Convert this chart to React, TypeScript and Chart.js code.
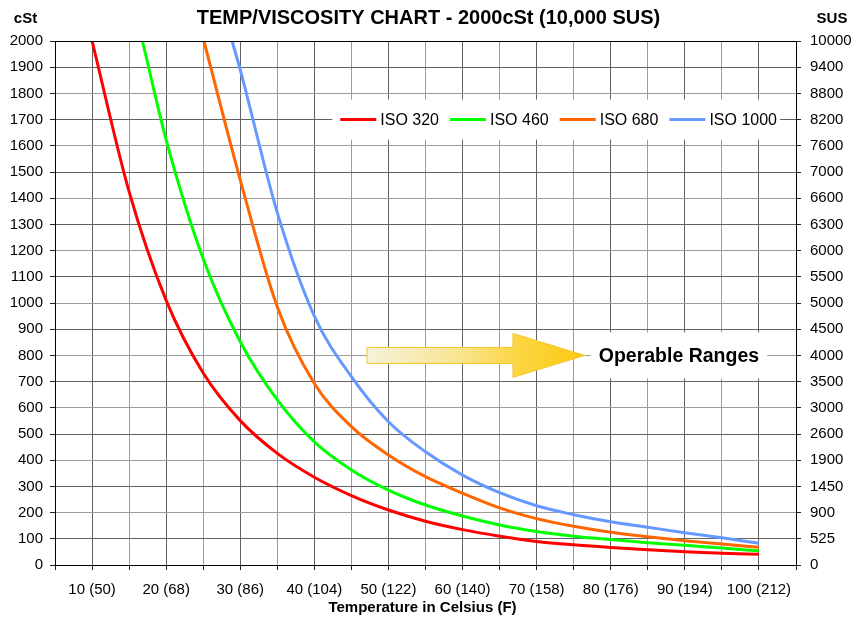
import React, { useEffect, useRef } from 'react';
import { Chart, registerables } from 'chart.js';

Chart.register(...registerables);

// ---- data (temperature °C -> viscosity cSt) ----
const seriesLabels = ['ISO 320', 'ISO 460', 'ISO 680', 'ISO 1000'];
const seriesColors = ['#ff0000', '#00ff00', '#ff6600', '#6699ff'];

const iso320Temps = [10, 15, 20, 25, 30, 35, 40, 45, 50, 55, 60, 65, 70, 75, 80, 85, 90, 95, 100];
const iso320Visc = [2000, 1425, 1010, 733, 551, 426, 335, 265, 210, 167, 135, 110, 90, 77, 67, 58, 51, 45, 41];

const iso460Temps = [16.8, 20, 25, 30, 35, 40, 45, 50, 55, 60, 65, 70, 75, 80, 85, 90, 95, 100];
const iso460Visc = [2000, 1623, 1169, 852, 630, 470, 363, 286, 229, 187, 153, 128, 110, 97, 85, 75, 65, 54];

const iso680Temps = [25.1, 30, 35, 40, 45, 50, 55, 60, 65, 70, 75, 80, 85, 90, 95, 100];
const iso680Visc = [2000, 1470, 985, 693, 528, 420, 337, 274, 218, 177, 148, 125, 108, 93, 80, 68];

const iso1000Temps = [28.9, 30, 35, 40, 45, 50, 55, 60, 65, 70, 75, 80, 85, 90, 95, 100];
const iso1000Visc = [2000, 1890, 1345, 950, 719, 547, 432, 343, 276, 226, 192, 165, 144, 123, 104, 83];

const xTickValues = [10, 20, 30, 40, 50, 60, 70, 80, 90, 100];
const xTickLabels = ['10 (50)', '20 (68)', '30 (86)', '40 (104)', '50 (122)', '60 (140)', '70 (158)', '80 (176)', '90 (194)', '100 (212)'];

const cstTickValues = [0, 100, 200, 300, 400, 500, 600, 700, 800, 900, 1000, 1100, 1200, 1300, 1400, 1500, 1600, 1700, 1800, 1900, 2000];
const susTickLabels = ['0', '525', '900', '1450', '1900', '2600', '3000', '3500', '4000', '4500', '5000', '5500', '6000', '6300', '6600', '7000', '7600', '8200', '8800', '9400', '10000'];

const titleText = 'TEMP/VISCOSITY CHART - 2000cSt (10,000 SUS)';
const xTitleText = 'Temperature in Celsius (F)';
const annotationText = 'Operable Ranges';
const arrowFromTemp = 47.1;
const arrowHeadTemp = 66.8;
const arrowTipTemp = 76.5;
const arrowLevel = 800;
const annotationCenterTemp = 89.2;
const legendLevel = 1700;

const FONT = '"Liberation Sans", Arial, Helvetica, sans-serif';
const DARK = '#626262';
const LIGHT = '#9c9c9c';

const toPoints = (xs: number[], ys: number[]) => xs.map((x, i) => ({ x, y: ys[i] }));

const decorPlugin = {
  id: 'decor',
  afterDatasetsDraw(chart: any) {
    const { ctx, chartArea, scales } = chart;
    const xs = scales.x;
    const ys = scales.y;
    ctx.save();
    // top border
    ctx.strokeStyle = '#000';
    ctx.lineWidth = 1;
    ctx.beginPath();
    ctx.moveTo(chartArea.left, Math.round(chartArea.top) + 0.5);
    ctx.lineTo(chartArea.right, Math.round(chartArea.top) + 0.5);
    ctx.stroke();

    // legend
    ctx.font = `16px ${FONT}`;
    ctx.textBaseline = 'middle';
    ctx.textAlign = 'left';
    const lineLen = 36;
    const gapText = 4;
    const gapItem = 11;
    const widths = seriesLabels.map((l) => ctx.measureText(l).width);
    let total = 0;
    widths.forEach((w, i) => {
      total += lineLen + gapText + w + (i < widths.length - 1 ? gapItem : 0);
    });
    const ly = ys.getPixelForValue(legendLevel);
    const rightEnd = chartArea.right - 19;
    let lx = rightEnd - total;
    ctx.fillStyle = '#fff';
    ctx.fillRect(lx - 8, ly - 20, total + 11, 40);
    seriesLabels.forEach((label, i) => {
      ctx.strokeStyle = seriesColors[i];
      ctx.lineWidth = 3;
      ctx.beginPath();
      ctx.moveTo(lx, ly);
      ctx.lineTo(lx + lineLen, ly);
      ctx.stroke();
      ctx.fillStyle = '#000';
      ctx.fillText(label, lx + lineLen + gapText, ly + 1);
      lx += lineLen + gapText + widths[i] + gapItem;
    });

    // arrow
    const ax0 = xs.getPixelForValue(arrowFromTemp);
    const axh = xs.getPixelForValue(arrowHeadTemp);
    const axt = xs.getPixelForValue(arrowTipTemp);
    const ay = ys.getPixelForValue(arrowLevel);
    const grad = ctx.createLinearGradient(ax0, 0, axt, 0);
    grad.addColorStop(0, '#f6f1da');
    grad.addColorStop(0.4, '#f8e596');
    grad.addColorStop(0.7, '#fcd540');
    grad.addColorStop(1, '#fcc912');
    ctx.beginPath();
    ctx.moveTo(ax0, ay - 8);
    ctx.lineTo(axh, ay - 8);
    ctx.lineTo(axh, ay - 22);
    ctx.lineTo(axt, ay);
    ctx.lineTo(axh, ay + 22);
    ctx.lineTo(axh, ay + 8);
    ctx.lineTo(ax0, ay + 8);
    ctx.closePath();
    ctx.fillStyle = grad;
    ctx.fill();
    ctx.strokeStyle = '#f3c62c';
    ctx.lineWidth = 1;
    ctx.stroke();

    // annotation label
    ctx.font = `bold 19.5px ${FONT}`;
    ctx.textAlign = 'center';
    const acx = xs.getPixelForValue(annotationCenterTemp);
    const tw = ctx.measureText(annotationText).width;
    ctx.fillStyle = '#fff';
    ctx.fillRect(acx - tw / 2 - 8, ay - 23, tw + 16, 46);
    ctx.fillStyle = '#000';
    ctx.fillText(annotationText, acx, ay + 1);
    ctx.restore();
  },
  afterDraw(chart: any) {
    const { ctx, chartArea } = chart;
    ctx.save();
    ctx.fillStyle = '#000';
    ctx.textBaseline = 'middle';
    ctx.textAlign = 'center';
    ctx.font = `bold 20px ${FONT}`;
    ctx.fillText(titleText, (chartArea.left + chartArea.right) / 2 + 3, 18.5);
    ctx.font = `bold 15px ${FONT}`;
    ctx.fillText('cSt', 25.5, 18.5);
    ctx.fillText('SUS', 832, 18.5);
    ctx.fillText(xTitleText, (chartArea.left + chartArea.right) / 2 - 3, 607.5);
    ctx.restore();
  },
};

export default function App() {
  const canvasRef = useRef<HTMLCanvasElement | null>(null);

  useEffect(() => {
    if (!canvasRef.current) return;
    const chart = new Chart(canvasRef.current, {
      type: 'line',
      data: {
        datasets: [
          { label: seriesLabels[0], data: toPoints(iso320Temps, iso320Visc) },
          { label: seriesLabels[1], data: toPoints(iso460Temps, iso460Visc) },
          { label: seriesLabels[2], data: toPoints(iso680Temps, iso680Visc) },
          { label: seriesLabels[3], data: toPoints(iso1000Temps, iso1000Visc) },
        ].map((d, i) => ({
          ...d,
          borderColor: seriesColors[i],
          backgroundColor: seriesColors[i],
          borderWidth: 3,
          pointRadius: 0,
          fill: false,
          cubicInterpolationMode: 'monotone' as const,
          yAxisID: 'y',
        })),
      },
      options: {
        responsive: false,
        animation: false,
        events: [],
        layout: { padding: { top: 41, left: 0, right: 0, bottom: 0 } },
        plugins: {
          legend: { display: false },
          title: { display: false },
          tooltip: { enabled: false },
        },
        scales: {
          x: {
            type: 'linear',
            min: 5,
            max: 105,
            afterFit: (s: any) => { s.height = 53; },
            ticks: {
              stepSize: 5,
              autoSkip: false,
              maxRotation: 0,
              minRotation: 0,
              padding: 11,
              color: '#000',
              font: { family: FONT, size: 15 },
              callback: (v: any) => {
                const idx = xTickValues.indexOf(Number(v));
                return idx >= 0 ? xTickLabels[idx] : '';
              },
            },
            grid: {
              color: (c: any) => (c.tick && c.tick.value % 10 === 0 ? DARK : LIGHT),
              tickColor: '#222',
              tickLength: 5,
              lineWidth: 1,
            },
            border: { color: '#000', width: 1 },
          },
          y: {
            type: 'linear',
            position: 'left',
            min: 0,
            max: 2000,
            afterFit: (s: any) => { s.width = 55; },
            afterBuildTicks: (s: any) => { s.ticks = cstTickValues.map((v) => ({ value: v })); },
            ticks: {
              stepSize: 100,
              autoSkip: false,
              padding: 7,
              color: '#000',
              font: { family: FONT, size: 15 },
              callback: (v: any) => String(v),
            },
            grid: {
              color: (c: any) => (c.tick && (c.tick.value / 100) % 2 === 1 ? DARK : LIGHT),
              tickColor: '#222',
              tickLength: 5,
              lineWidth: 1,
            },
            border: { color: '#000', width: 1 },
          },
          y2: {
            type: 'linear',
            position: 'right',
            min: 0,
            max: 2000,
            afterFit: (s: any) => { s.width = 60; },
            afterBuildTicks: (s: any) => { s.ticks = cstTickValues.map((v) => ({ value: v })); },
            ticks: {
              autoSkip: false,
              padding: 9,
              color: '#000',
              font: { family: FONT, size: 15 },
              callback: (v: any) => {
                const idx = cstTickValues.indexOf(Number(v));
                return idx >= 0 ? susTickLabels[idx] : '';
              },
            },
            grid: {
              drawOnChartArea: false,
              tickColor: '#222',
              tickLength: 5,
            },
            border: { color: '#000', width: 1 },
          },
        },
      } as any,
      plugins: [decorPlugin],
    });
    return () => chart.destroy();
  }, []);

  return (
    <div style={{ position: 'fixed', left: 0, top: 0, width: 856, height: 618, background: '#fff' }}>
      <canvas ref={canvasRef} width={856} height={618} style={{ display: 'block' }} />
    </div>
  );
}
